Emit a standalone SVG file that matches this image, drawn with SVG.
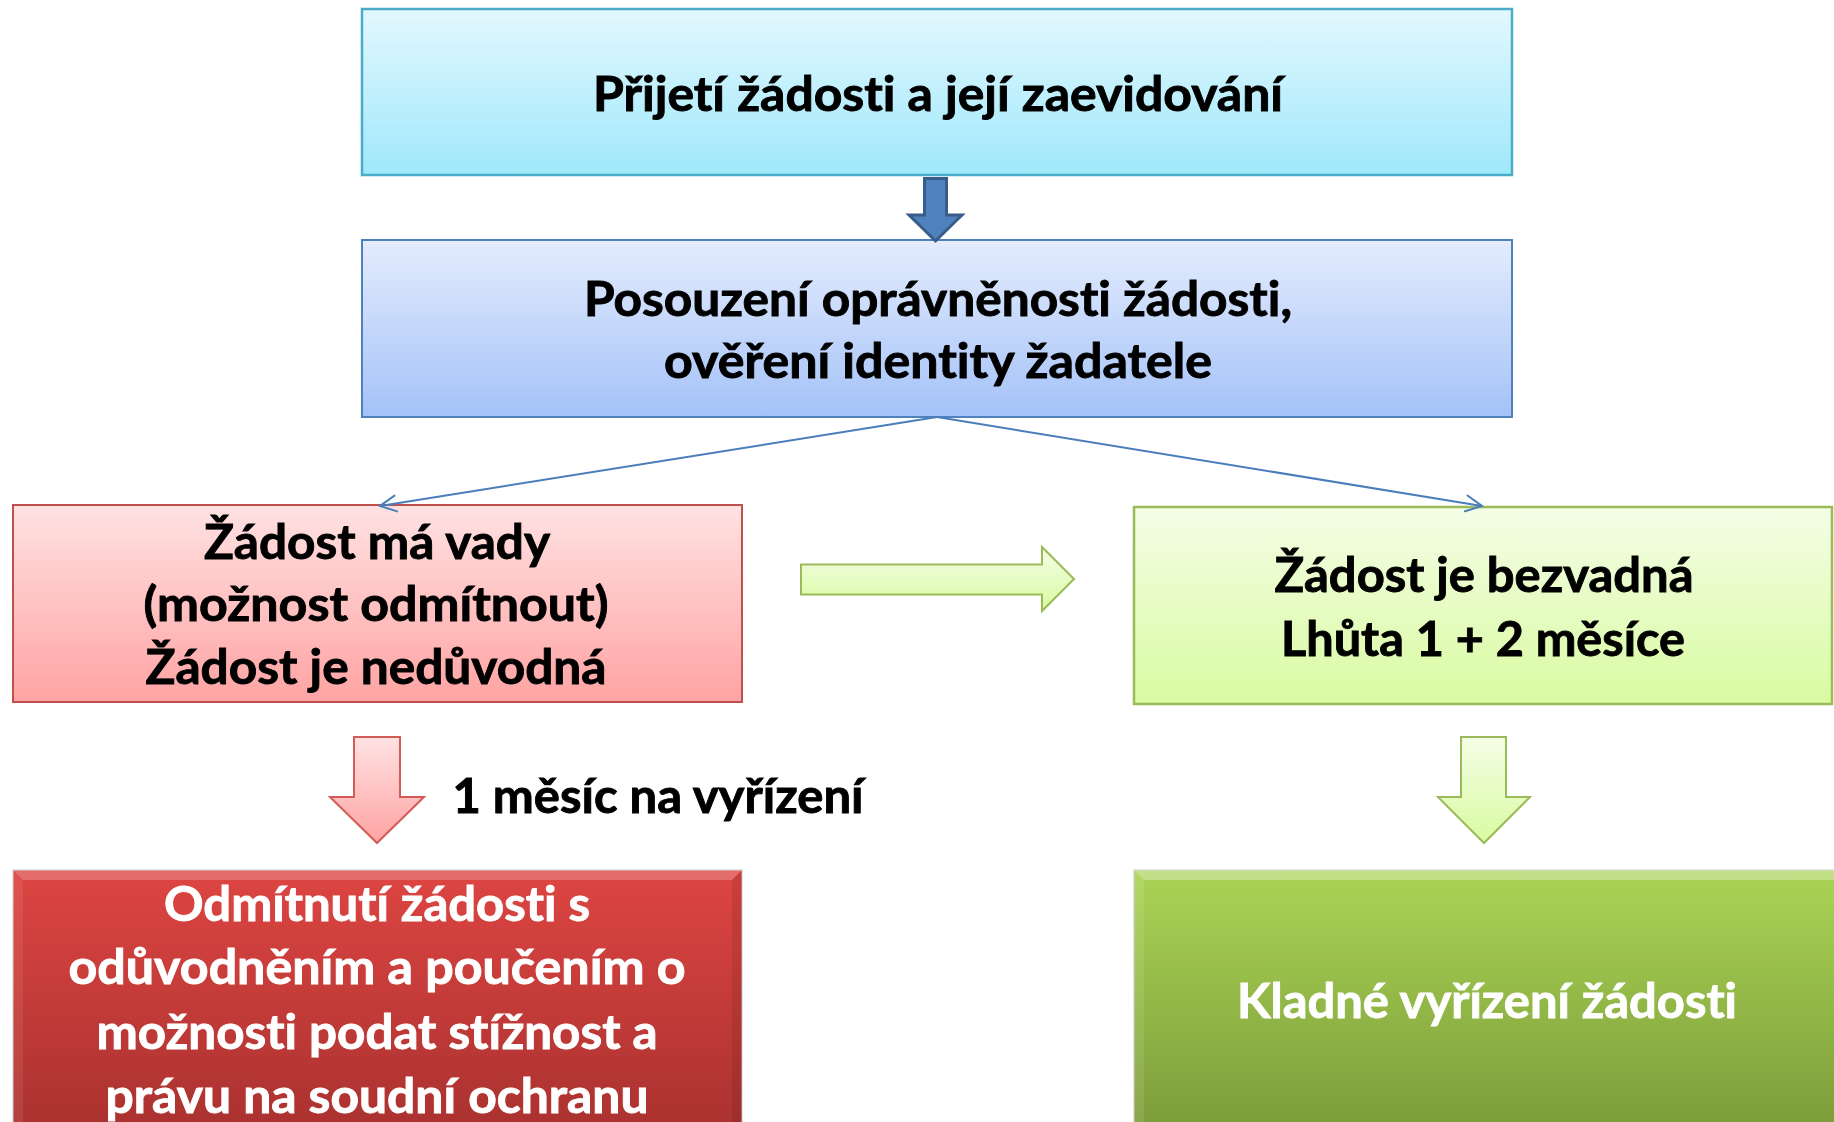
<svg xmlns="http://www.w3.org/2000/svg" width="1834" height="1122" viewBox="0 0 1834 1122">
  <defs>
    <linearGradient id="gCyan" x1="0" y1="0" x2="0" y2="1">
      <stop offset="0" stop-color="#e3f8fe"/>
      <stop offset="1" stop-color="#9fe8fb"/>
    </linearGradient>
    <linearGradient id="gBlue" x1="0" y1="0" x2="0" y2="1">
      <stop offset="0" stop-color="#e4ecfd"/>
      <stop offset="1" stop-color="#a4c2f8"/>
    </linearGradient>
    <linearGradient id="gPink" x1="0" y1="0" x2="0" y2="1">
      <stop offset="0" stop-color="#ffe2e2"/>
      <stop offset="1" stop-color="#ffa3a3"/>
    </linearGradient>
    <linearGradient id="gLime" x1="0" y1="0" x2="0" y2="1">
      <stop offset="0" stop-color="#f4fde6"/>
      <stop offset="1" stop-color="#d9fba1"/>
    </linearGradient>
    <linearGradient id="gRed" x1="0" y1="0" x2="0" y2="1">
      <stop offset="0" stop-color="#dd4542"/>
      <stop offset="1" stop-color="#a8312f"/>
    </linearGradient>
    <linearGradient id="gGreen" x1="0" y1="0" x2="0" y2="1">
      <stop offset="0" stop-color="#aad455"/>
      <stop offset="1" stop-color="#7b9a39"/>
    </linearGradient>
    <marker id="openArrow" viewBox="0 0 24 24" refX="22" refY="12" markerWidth="24" markerHeight="24" markerUnits="userSpaceOnUse" orient="auto" overflow="visible">
      <path d="M6,4 L22,12 L6,20" fill="none" stroke="#4a7ebb" stroke-width="2" stroke-linecap="round"/>
    </marker>
    <style>
      .t { font-family: Lato, "Open Sans", "Noto Sans", sans-serif; font-weight: bold; font-size: 48px; text-anchor: middle; font-variant-ligatures: none; stroke-width: 0.9px; }
      .dark { fill: #000000; stroke: #000000; }
      .light { fill: #ffffff; stroke: #ffffff; }
      .conn { stroke: #4a7ebb; stroke-width: 2; fill: none; }
    </style>
  </defs>

  <rect width="1834" height="1122" fill="#ffffff"/>

  <g id="node-prijeti">
    <rect x="362" y="9" width="1150" height="166" fill="url(#gCyan)" stroke="#4bacc6" stroke-width="2.5"/>
    <text class="t dark" x="938" y="111" textLength="690" lengthAdjust="spacingAndGlyphs">Přijetí žádosti a její zaevidování</text>
  </g>

  <g id="node-posouzeni">
    <rect x="362" y="240" width="1150" height="177" fill="url(#gBlue)" stroke="#4f81bd" stroke-width="2"/>
    <text class="t dark" x="938" y="316" textLength="708" lengthAdjust="spacingAndGlyphs">Posouzení oprávněnosti žádosti,</text>
    <text class="t dark" x="938" y="378" textLength="548" lengthAdjust="spacingAndGlyphs">ověření identity žadatele</text>
  </g>

  <g id="node-vady">
    <rect x="13" y="505" width="729" height="197" fill="url(#gPink)" stroke="#c0504d" stroke-width="2"/>
    <text class="t dark" x="377" y="559" textLength="346" lengthAdjust="spacingAndGlyphs">Žádost má vady</text>
    <text class="t dark" x="376" y="621" textLength="465" lengthAdjust="spacingAndGlyphs">(možnost odmítnout)</text>
    <text class="t dark" x="376" y="684" textLength="461" lengthAdjust="spacingAndGlyphs">Žádost je nedůvodná</text>
  </g>

  <g id="node-bezvadna">
    <rect x="1134" y="507" width="698" height="197" fill="url(#gLime)" stroke="#9bbb59" stroke-width="2.5"/>
    <text class="t dark" x="1484" y="592" textLength="419" lengthAdjust="spacingAndGlyphs">Žádost je bezvadná</text>
    <text class="t dark" x="1483" y="656" textLength="404" lengthAdjust="spacingAndGlyphs">Lhůta 1 + 2 měsíce</text>
  </g>

  <g id="label-mesic">
    <text class="t dark" x="658" y="813" textLength="411" lengthAdjust="spacingAndGlyphs">1 měsíc na vyřízení</text>
  </g>

  <g id="node-odmitnuti">
    <rect x="13" y="870" width="729" height="270" fill="url(#gRed)" stroke="#c9c9c9" stroke-width="1"/>
    <polygon points="13,870 742,870 732,880 23,880" fill="#ffffff" fill-opacity="0.22"/>
    <polygon points="13,870 23,880 23,1140 13,1140" fill="#ffffff" fill-opacity="0.08"/>
    <polygon points="742,870 742,1140 732,1140 732,880" fill="#000000" fill-opacity="0.08"/>
    <text class="t light" x="377" y="921" textLength="426" lengthAdjust="spacingAndGlyphs">Odmítnutí žádosti s</text>
    <text class="t light" x="377" y="984" textLength="617" lengthAdjust="spacingAndGlyphs">odůvodněním a poučením o</text>
    <text class="t light" x="377" y="1049" textLength="561" lengthAdjust="spacingAndGlyphs">možnosti podat stížnost a</text>
    <text class="t light" x="377" y="1113" textLength="543" lengthAdjust="spacingAndGlyphs">právu na soudní ochranu</text>
  </g>

  <g id="node-kladne">
    <rect x="1134" y="870" width="710" height="270" fill="url(#gGreen)" stroke="#c9c9c9" stroke-width="1"/>
    <polygon points="1134,870 1844,870 1834,880 1144,880" fill="#ffffff" fill-opacity="0.3"/>
    <polygon points="1134,870 1144,880 1144,1140 1134,1140" fill="#ffffff" fill-opacity="0.1"/>
    <text class="t light" x="1487" y="1018" textLength="500" lengthAdjust="spacingAndGlyphs">Kladné vyřízení žádosti</text>
  </g>

  <g id="connectors">
    <polygon points="924.5,178.5 946.5,178.5 946.5,215 962,215 935.5,241 909,215 924.5,215" fill="#4f81bd" stroke="#385d8a" stroke-width="3" stroke-linejoin="miter"/>
    <line class="conn" x1="937" y1="417" x2="380" y2="506" marker-end="url(#openArrow)"/>
    <line class="conn" x1="937" y1="417" x2="1482" y2="506" marker-end="url(#openArrow)"/>
    <polygon points="801,564.5 1042,564.5 1042,547 1074,579 1042,611 1042,594.5 801,594.5" fill="url(#gLime)" stroke="#9bbb59" stroke-width="2"/>
    <polygon points="354,737 400,737 400,797 424,797 377,843 330,797 354,797" fill="url(#gPink)" stroke="#d35c59" stroke-width="2"/>
    <polygon points="1461,737 1506,737 1506,797 1530,797 1484,843 1438,797 1461,797" fill="url(#gLime)" stroke="#9bbb59" stroke-width="2"/>
  </g>
</svg>
